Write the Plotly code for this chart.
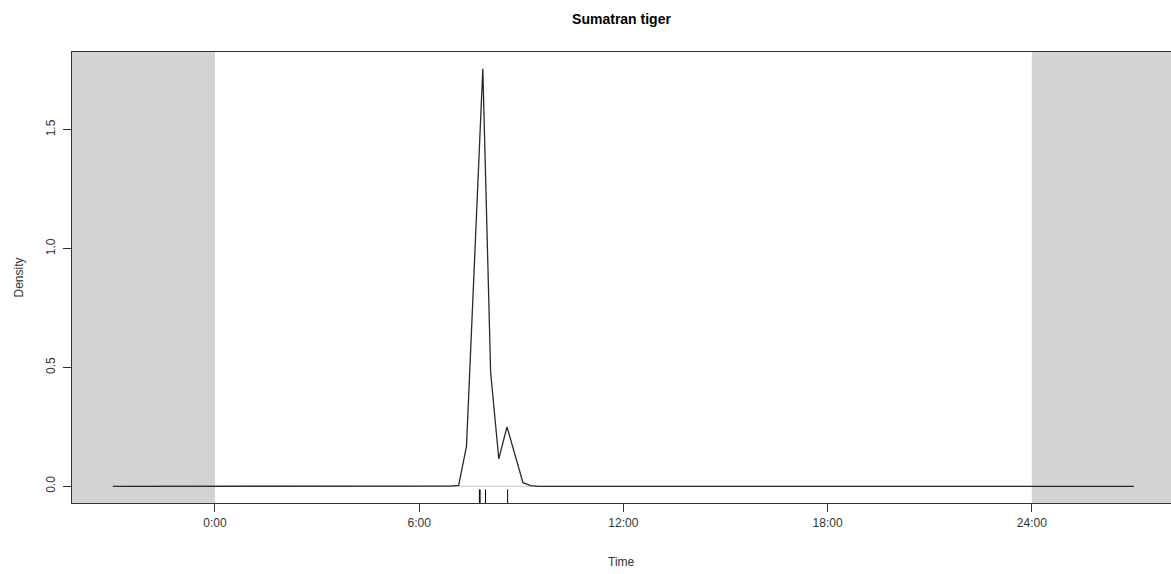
import plotly.graph_objects as go

# ---- data ----
time_h = [-3.0, 6.92, 7.16, 7.39, 7.63, 7.87, 8.10, 8.34, 8.58, 8.81, 9.05, 9.28, 9.52, 27.0]
density = [0.0, 0.0005, 0.004, 0.168, 0.96, 1.757, 0.48, 0.115, 0.25, 0.13, 0.015, 0.003, 0.0, 0.0]
rug_times = [7.77, 7.79, 7.95, 8.60]
day_start, day_end = 0, 24
tick_vals = [0, 6, 12, 18, 24]
tick_text = ["0:00", "6:00", "12:00", "18:00", "24:00"]
y_tick_vals = [0.0, 0.5, 1.0, 1.5]
y_tick_text = ["0.0", "0.5", "1.0", "1.5"]
title = "Sumatran tiger"
x_title = "Time"
y_title = "Density"

# axis limits (R style 4% padding)
ymax = max(density)
y_lo, y_hi = -0.04 * ymax, 1.04 * ymax
x_lo, x_hi = -4.2, 28.09
rug_len = 0.03 * (y_hi - y_lo)

FONT = "Liberation Sans, Arial, sans-serif"
fig = go.Figure()

# grey extended regions as filled traces (clipped to the plot area)
for a, b in [(x_lo - 2, day_start), (day_end, x_hi + 2)]:
    fig.add_trace(go.Scatter(x=[a, b, b, a, a], y=[y_lo - 1, y_lo - 1, y_hi + 1, y_hi + 1, y_lo - 1],
                             mode="lines", fill="toself", fillcolor="#d3d3d3", line=dict(width=0),
                             hoverinfo="skip", showlegend=False))
# baseline at zero
fig.add_trace(go.Scatter(x=[time_h[0], time_h[-1]], y=[0, 0], mode="lines",
                         line=dict(color="#c8c8c8", width=1), hoverinfo="skip", showlegend=False))
# density curve
fig.add_trace(go.Scatter(x=time_h, y=density, mode="lines",
                         line=dict(color="#2a2a2a", width=1.3), showlegend=False))
# rug
rx, ry = [], []
for t in rug_times:
    rx += [t, t, None]
    ry += [y_lo, y_lo + rug_len, None]
fig.add_trace(go.Scatter(x=rx, y=ry, mode="lines", line=dict(color="black", width=1),
                         hoverinfo="skip", showlegend=False))

fig.update_layout(
    width=1171, height=574,
    margin=dict(l=72, r=0, t=52, b=71, pad=0),
    paper_bgcolor="white", plot_bgcolor="white",
    font=dict(family=FONT, size=12, color="#222"),
    title=dict(text="<b>" + title + "</b>", x=0.5, xref="paper", xanchor="center",
               y=1 - 19 / 574, yref="container", yanchor="middle",
               font=dict(family=FONT, size=14, color="black")),
    xaxis=dict(range=[x_lo, x_hi], tickvals=tick_vals, ticktext=tick_text,
               showgrid=False, zeroline=False, showline=True, mirror=True,
               linecolor="#333", linewidth=1.2, ticks="outside", ticklen=8,
               tickcolor="#333", tickfont=dict(size=12, color="#333"), automargin=False),
    yaxis=dict(range=[y_lo, y_hi], tickvals=y_tick_vals, ticktext=y_tick_text,
               showgrid=False, zeroline=False, showline=True, mirror=True,
               linecolor="#333", linewidth=1.2, ticks="outside", ticklen=8,
               tickcolor="#333", tickangle=-90, tickfont=dict(size=12, color="#333"),
               ticklabelstandoff=3, automargin=False),
    annotations=[
        dict(text=x_title, xref="paper", yref="paper", x=0.5, y=-(562 - 503) / 451,
             xanchor="center", yanchor="middle", showarrow=False,
             font=dict(family=FONT, size=12, color="#333")),
        dict(text=y_title, xref="paper", yref="paper", x=-(72 - 18) / 1099, y=0.5,
             xanchor="center", yanchor="middle", showarrow=False, textangle=-90,
             font=dict(family=FONT, size=12, color="#333")),
    ],
)

fig.write_html("out.html")
